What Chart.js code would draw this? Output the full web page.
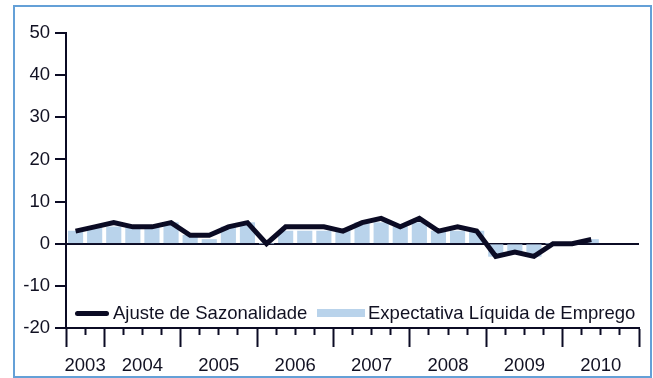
<!DOCTYPE html>
<html lang="pt">
<head>
<meta charset="utf-8">
<title>Expectativa Líquida de Emprego</title>
<script src="https://cdn.jsdelivr.net/npm/chart.js@4/dist/chart.umd.min.js"></script>
<style>
  html, body { margin: 0; padding: 0; background: #ffffff; }
  #wrap { position: relative; width: 653px; height: 378px; overflow: hidden; }
  #chart { position: absolute; left: 0; top: 0; }
  #frame {
    position: absolute; left: 13px; top: 5px; width: 639px; height: 373px;
    box-sizing: border-box; border: 2px solid #64a0d7; pointer-events: none;
  }
  #legend {
    position: absolute; left: 0; top: 0; width: 653px; height: 378px; pointer-events: none;
    font-family: "Liberation Sans", Arial, Helvetica, sans-serif; font-size: 18.5px; color: #111122;
  }
  #legend .item { position: absolute; }
  #legend .text { position: absolute; white-space: nowrap; line-height: 18.5px; }
</style>
</head>
<body>
<div id="wrap">
  <canvas id="chart" width="653" height="378"></canvas>
  <div id="frame"></div>
  <div id="legend"></div>
</div>
<script>
// Years shown on the time axis and how many quarters each one covers
const years = ['2003', '2004', '2005', '2006', '2007', '2008', '2009', '2010'];
const quartersPerYear = [2, 4, 4, 4, 4, 4, 4, 4];

// Quarterly series, from 2003 Q3 to 2010 Q2
const seasonallyAdjusted = [3, 4, 5, 4, 4, 5, 2, 2, 4, 5, 0, 4, 4, 4, 3, 5, 6, 4, 6, 3, 4, 3, -3, -2, -3, 0, 0, 1];
const netOutlook        = [3, 4, 4, 4, 4, 5, 2, 1, 4, 5, 0, 3, 3, 3, 3, 5, 5, 4, 5, 3, 3, 3, -3, -2, -3, 0, 0, 1];

const seriesNames = ['Ajuste de Sazonalidade', 'Expectativa Líquida de Emprego'];

// Y axis range and step
const yMin = -20, yMax = 50, yStep = 10;

const INK = '#0b0b24';
const BAR = '#b9d3eb';
const FONT = '"Liberation Sans", Arial, Helvetica, sans-serif';

// Quarter boundaries (year starts are the long ticks) and year label positions
const totalQuarters = quartersPerYear.reduce((a, b) => a + b, 0);
const yearStarts = [];
const yearMids = {};
let acc = 0;
quartersPerYear.forEach((n, i) => {
  yearStarts.push(acc);
  yearMids[acc + n / 2] = years[i];
  acc += n;
});
yearStarts.push(acc);

const toPoints = arr => arr.map((v, i) => ({ x: i + 0.5, y: v }));

const chart = new Chart(document.getElementById('chart'), {
  data: {
    datasets: [
      {
        type: 'line',
        label: seriesNames[0],
        data: toPoints(seasonallyAdjusted),
        borderColor: INK,
        backgroundColor: INK,
        borderWidth: 5,
        pointRadius: 0,
        tension: 0,
        borderJoinStyle: 'miter',
        order: 0
      },
      {
        type: 'bar',
        label: seriesNames[1],
        data: toPoints(netOutlook),
        backgroundColor: BAR,
        borderWidth: 0,
        barThickness: 14.5,
        order: 1
      }
    ]
  },
  options: {
    responsive: false,
    animation: false,
    devicePixelRatio: 1,
    layout: { padding: { top: 33, right: 14, bottom: 0, left: 0 } },
    plugins: {
      legend: { display: false },
      tooltip: { enabled: false }
    },
    scales: {
      x: {
        type: 'linear',
        position: 'bottom',
        offset: false,
        min: 0,
        max: totalQuarters,
        afterBuildTicks: scale => {
          const t = [];
          for (let q = 0; q <= totalQuarters; q++) t.push({ value: q });
          scale.ticks = t;
        },
        afterFit: scale => { scale.height = 50; },
        border: { display: true, color: INK, width: 2 },
        grid: {
          offset: false,
          drawOnChartArea: false,
          drawTicks: true,
          tickLength: 19,
          tickWidth: 2,
          tickColor: INK,
          tickBorderDash: ctx => (ctx.tick && yearStarts.includes(ctx.tick.value)) ? [] : [6, 100]
        },
        ticks: {
          autoSkip: false,
          maxRotation: 0,
          minRotation: 0,
          padding: 8,
          color: '#111122',
          font: { family: FONT, size: 18.5 },
          callback: value => yearMids[value] || ''
        }
      },
      y: {
        type: 'linear',
        position: 'left',
        min: yMin,
        max: yMax,
        afterFit: scale => { scale.width = 66; },
        border: { display: true, color: INK, width: 2 },
        grid: {
          drawOnChartArea: true,
          drawTicks: true,
          tickLength: 11,
          lineWidth: 2,
          tickWidth: 2,
          tickColor: INK,
          color: ctx => (ctx.tick && ctx.tick.value === 0) ? INK : 'rgba(0,0,0,0)'
        },
        ticks: {
          stepSize: yStep,
          padding: 5,
          color: '#111122',
          font: { family: FONT, size: 18.5 }
        }
      }
    }
  }
});

// Legend laid over the lower part of the plot area, built from the datasets
(function buildLegend() {
  const box = document.getElementById('legend');
  const ds = chart.data.datasets;
  const specs = [
    { swatch: { left: 75, top: 311, width: 34, height: 5, radius: 3 }, textLeft: 113 },
    { swatch: { left: 317, top: 309, width: 48, height: 8, radius: 0 }, textLeft: 368 }
  ];
  ds.forEach((d, i) => {
    const s = specs[i];
    const sw = document.createElement('div');
    sw.className = 'item';
    sw.style.left = s.swatch.left + 'px';
    sw.style.top = s.swatch.top + 'px';
    sw.style.width = s.swatch.width + 'px';
    sw.style.height = s.swatch.height + 'px';
    sw.style.borderRadius = s.swatch.radius + 'px';
    sw.style.background = d.type === 'line' ? d.borderColor : d.backgroundColor;
    box.appendChild(sw);
    const tx = document.createElement('div');
    tx.className = 'text';
    tx.style.left = s.textLeft + 'px';
    tx.style.top = '304px';
    tx.textContent = d.label;
    box.appendChild(tx);
  });
})();
</script>
</body>
</html>
